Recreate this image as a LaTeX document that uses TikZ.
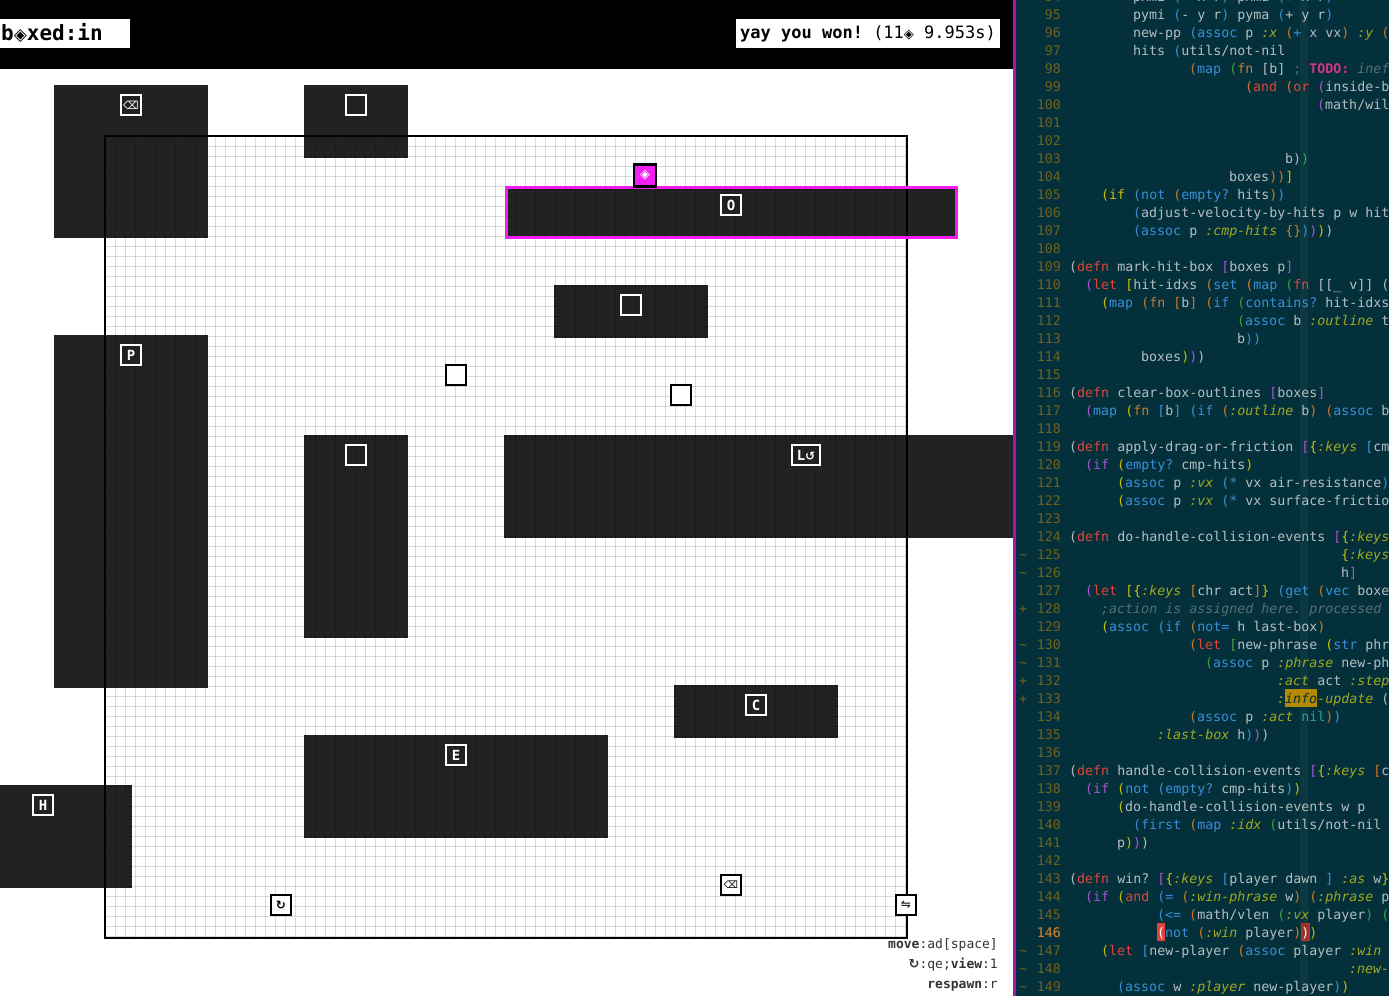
\documentclass[tikz,border=0pt]{standalone}
\usepackage{fontspec}
\setmainfont{DejaVu Sans}
\setmonofont{DejaVu Sans Mono}
\newfontfamily\symf{DejaVu Sans}
\definecolor{codebg}{HTML}{03303B}
\definecolor{ctext}{HTML}{B4BEC0}
\definecolor{cred}{HTML}{E0453A}
\definecolor{cblue}{HTML}{3A8FD8}
\definecolor{corange}{HTML}{CB7A2A}
\definecolor{cyellow}{HTML}{C8C000}
\definecolor{cviolet}{HTML}{A855D0}
\definecolor{cgreen}{HTML}{3CA33C}
\definecolor{ckey}{HTML}{A0A820}
\definecolor{cteal}{HTML}{2AA198}
\definecolor{cmt}{HTML}{586E75}
\definecolor{todo}{HTML}{D33682}
\definecolor{numc}{HTML}{6E6220}
\definecolor{boxc}{HTML}{222222}
\definecolor{mag}{HTML}{F01EF0}
\definecolor{hlgold}{HTML}{B58900}
\newcommand\kR[1]{\textcolor{cred}{#1}}
\newcommand\kB[1]{\textcolor{cblue}{#1}}
\newcommand\kO[1]{\textcolor{corange}{#1}}
\newcommand\kY[1]{\textcolor{cyellow}{#1}}
\newcommand\kV[1]{\textcolor{cviolet}{#1}}
\newcommand\kG[1]{\textcolor{cgreen}{#1}}
\newcommand\kK[1]{\textcolor{ckey}{\itshape #1}}
\newcommand\cl[3]{\node[codet] at ({1069+8*#2},{19+18*(#1-95)}) {#3};\node[numt] at (1061,{19+18*(#1-95)}) {#1};}
\newcommand\mk[2]{\node[markt] at (1023,{19+18*(#1-95)}) {#2};}
\tikzset{
 codet/.style={anchor=base west,inner sep=0,text=ctext,font=\ttfamily\fontsize{13.3}{16}\selectfont},
 numt/.style={anchor=base east,inner sep=0,text=numc,font=\ttfamily\fontsize{13.3}{16}\selectfont},
 markt/.style={anchor=base,inner sep=0,text=numc,font=\ttfamily\fontsize{13.3}{16}\selectfont},
 gbox/.style={fill=boxc,draw=none},
 lab/.style={draw=white,line width=1.2,minimum size=20,inner sep=0,text=white,font=\ttfamily\bfseries\fontsize{14}{16}\selectfont},
 wlab/.style={draw=black,fill=white,line width=1.2,minimum size=20,inner sep=0,text=black,font=\symf\fontsize{12}{14}\selectfont},
 help/.style={anchor=base east,inner sep=0,text=black!80,font=\ttfamily\fontsize{13}{15}\selectfont}
}
\begin{document}
\begin{tikzpicture}[x=1pt,y=-1pt]
\useasboundingbox (0,0) rectangle (1389,996);
% game area
\fill[white] (0,69) rectangle (1013,996);
\fill[black] (0,0) rectangle (1013,69);
\node[fill=white,anchor=west,minimum width=130,minimum height=29,inner sep=1,text width=128,font=\ttfamily\bfseries\fontsize{21}{24}\selectfont] (title) at (0,33.5) {b{\symf\fontsize{17}{20}\selectfont ◈}xed:in};
\node[fill=white,anchor=west,minimum height=29,inner xsep=4,inner ysep=1,font=\ttfamily\fontsize{17}{20}\selectfont] (status) at (736,33.5) {\textbf{yay you won!} (11{\symf\fontsize{13}{16}\selectfont ◈} 9.953s)};
% boxes
\fill[gbox] (54,85) rectangle (208,238);
\fill[gbox] (304,85) rectangle (408,158);
\fill[gbox] (554,285) rectangle (708,338);
\fill[gbox] (54,335) rectangle (208,688);
\fill[gbox] (304,435) rectangle (408,638);
\fill[gbox] (504,435) rectangle (1013,538);
\fill[gbox] (674,685) rectangle (838,738);
\fill[gbox] (304,735) rectangle (608,838);
\fill[gbox] (0,785) rectangle (132,888);
\fill[gbox] (506,187) rectangle (956,237);
% grid
\begin{scope}
\clip (105,136) rectangle (907,938);
\foreach \i in {0,...,80} {
 \draw[black,opacity=0.14,line width=0.7] ({105+10*\i},136) -- ({105+10*\i},938);
 \draw[black,opacity=0.14,line width=0.7] (105,{136+10*\i}) -- (907,{136+10*\i});
}
\end{scope}
\draw[black,line width=2] (105,136) rectangle (907,938);
\draw[mag,line width=3] (506,187) rectangle (956,237);
% player
\node[fill=mag,draw=black,line width=2.5,minimum size=22,inner sep=0,text=white,font=\symf\fontsize{13}{14}\selectfont] (player) at (645,175.5) {◈};
% labels
\node[lab,font=\symf\fontsize{11}{12}\selectfont] (l1) at (131,105) {⌫};
\node[lab] (l2) at (356,105) {};
\node[lab] (lO) at (731,205) {O};
\node[lab] (l4) at (631,305) {};
\node[wlab] (f1) at (456,375) {};
\node[wlab] (f2) at (681,395) {};
\node[lab] (lP) at (131,355) {P};
\node[lab] (l7) at (356,455) {};
\node[lab,minimum width=28] (lL) at (806,455) {L{\symf\fontsize{12}{14}\selectfont ↺}};
\node[lab] (lC) at (756,705) {C};
\node[lab] (lE) at (456,755) {E};
\node[lab] (lH) at (43,805) {H};
\node[wlab,font=\symf\bfseries\fontsize{12}{14}\selectfont] (i1) at (281,905) {↻};
\node[wlab,font=\symf\fontsize{10}{12}\selectfont] (i2) at (731,885) {⌫};
\node[wlab] (i3) at (906,905) {⇋};
% help
\node[help] (h1) at (998,948) {\textbf{move}:ad[space]};
\node[help] (h2) at (998,968) {{\symf\bfseries ↻}:qe;\textbf{view}:1};
\node[help] (h3) at (998,988) {\textbf{respawn}:r};
% code panel
\fill[codebg] (1013,0) rectangle (1389,996);
\fill[mag!70!black] (1013,0) rectangle (1016,996);
\fill[white,opacity=0.04] (1300,0) rectangle (1308,996);
\fill[hlgold] (1285,689) rectangle (1317,707);
\fill[cred] (1157,923) rectangle (1165,941);
\draw[cred!80!black,fill=cred!70!black,line width=1] (1301,923.5) rectangle (1309,940.5);
\begin{scope}
\clip (1016,0) rectangle (1389,996);
\cl{94}{8}{pxmi \kB{(}- x r\kB{)} pxma \kB{(}+ x r\kB{)}}
\cl{95}{8}{pymi \kB{(}- y r\kB{)} pyma \kB{(}+ y r\kB{)}}
\cl{96}{8}{new-pp \kB{(assoc} p \kK{:x} \kO{(}\kB{+} x vx\kO{)} \kK{:y} \kO{(}}
\cl{97}{8}{hits \kB{(}utils/not-nil}
\cl{98}{15}{\kO{(}\kB{map} \kG{(}\kO{fn} [b] \textcolor{cmt}{;} \textcolor{todo}{\bfseries TODO:} \textcolor{cmt}{\itshape inef}}
\cl{99}{22}{\kO{(}\kR{and} \kO{(}\kR{or} \kV{(}inside-b}
\cl{100}{31}{\kV{(}math/wil}
\cl{101}{0}{}
\cl{102}{0}{}
\cl{103}{27}{b)\kG{)}}
\cl{104}{20}{boxes\kO{))}\kY{]}}
\cl{105}{4}{\kY{(if} \kB{(not} \kO{(}\kB{empty?} hits\kO{)}\kB{)}}
\cl{106}{8}{\kB{(}adjust-velocity-by-hits p w hit}
\cl{107}{8}{\kB{(assoc} p \kK{:cmp-hits} \kO{\{\}}\kB{)}\kV{)}\kY{)})}
\cl{108}{0}{}
\cl{109}{0}{(\kR{defn} mark-hit-box \kV{[}boxes p\kV{]}}
\cl{110}{2}{\kV{(}\kR{let} \kY{[}hit-idxs \kO{(}\kB{set} \kO{(}\kB{map} \kG{(}\kR{fn} [[\_ v]] (}
\cl{111}{4}{\kY{(}\kB{map} \kO{(fn} \kO{[}b\kO{]} \kO{(}\kB{if} \kG{(}\kB{contains?} hit-idxs}
\cl{112}{21}{\kG{(}\kB{assoc} b \kK{:outline} t}
\cl{113}{21}{b\kB{))}}
\cl{114}{9}{boxes\kY{)}\kV{)})}
\cl{115}{0}{}
\cl{116}{0}{(\kR{defn} clear-box-outlines \kV{[}boxes\kV{]}}
\cl{117}{2}{\kV{(}\kB{map} \kY{(}\kO{fn} \kB{[}b\kB{]} \kB{(if} \kO{(}\kK{:outline} b\kO{)} \kO{(}\kB{assoc} b}
\cl{118}{0}{}
\cl{119}{0}{(\kR{defn} apply-drag-or-friction \kV{[}\kY{\{}\kK{:keys} \kB{[}cm}
\cl{120}{2}{\kV{(if} \kY{(}\kB{empty?} cmp-hits\kY{)}}
\cl{121}{6}{\kY{(}\kB{assoc} p \kK{:vx} \kB{(*} vx air-resistance\kB{)}}
\cl{122}{6}{\kY{(}\kB{assoc} p \kK{:vx} \kB{(*} vx surface-frictio}
\cl{123}{0}{}
\cl{124}{0}{(\kR{defn} do-handle-collision-events \kV{[}\kY{\{}\kK{:keys}}
\cl{125}{34}{\kY{\{}\kK{:keys}}
\cl{126}{34}{h\kV{]}}
\cl{127}{2}{\kV{(}\kR{let} \kY{[}\kY{\{}\kK{:keys} \kO{[}chr act\kO{]}\kY{\}} \kB{(get} \kO{(}\kB{vec} boxe}
\cl{128}{4}{\textcolor{cmt}{\itshape ;action is assigned here. processed}}
\cl{129}{4}{\kY{(}\kB{assoc} \kB{(if} \kO{(}\kB{not=} h last-box\kO{)}}
\cl{130}{15}{\kO{(}\kR{let} \kG{[}new-phrase \kY{(}\kB{str} phr}
\cl{131}{17}{\kG{(}\kB{assoc} p \kK{:phrase} new-ph}
\cl{132}{26}{\kK{:act} act \kK{:step}}
\cl{133}{26}{\kK{:}\textcolor{codebg}{\itshape info}\kK{-update} (}
\cl{134}{15}{\kO{(}\kB{assoc} p \kK{:act} \textcolor{cteal}{nil}\kO{)}\kB{)}}
\cl{135}{11}{\kK{:last-box} h\kB{)}\kV{)})}
\cl{136}{0}{}
\cl{137}{0}{(\kR{defn} handle-collision-events \kV{[}\kY{\{}\kK{:keys} \kO{[}cm}
\cl{138}{2}{\kV{(if} \kY{(}\kB{not} \kB{(}\kB{empty?} cmp-hits\kB{)}\kY{)}}
\cl{139}{6}{\kY{(}do-handle-collision-events w p}
\cl{140}{8}{\kB{(first} \kO{(}\kB{map} \kK{:idx} \kG{(}utils/not-nil}
\cl{141}{6}{p\kY{)}\kV{)})}
\cl{142}{0}{}
\cl{143}{0}{(\kR{defn} win? \kV{[}\kY{\{}\kK{:keys} \kB{[}player dawn \kB{]} \kK{:as} w\kY{\}}}
\cl{144}{2}{\kV{(if} \kY{(}\kR{and} \kB{(=} \kO{(}\kK{:win-phrase} w\kO{)} \kO{(}\kK{:phrase} p}
\cl{145}{11}{\kB{(<=} \kO{(}math/vlen \kG{(}\kK{:vx} player\kG{)} \kG{(}}
\cl{146}{11}{\textcolor{white}{(}\kB{not} \kO{(}\kK{:win} player\kO{)}\textcolor{white}{)}\kY{)}}
\cl{147}{4}{\kY{(}\kR{let} \kB{[}new-player \kO{(}\kB{assoc} player \kK{:win}}
\cl{148}{35}{\kK{:new-}}
\cl{149}{6}{\kB{(}\kB{assoc} w \kK{:player} new-player\kB{)}\kY{)}}
\node[numt,text=corange] at (1061,{19+18*51}) {146};
\mk{125}{\textasciitilde}\mk{126}{\textasciitilde}\mk{128}{+}\mk{130}{\textasciitilde}\mk{131}{\textasciitilde}
\mk{132}{+}\mk{133}{+}\mk{147}{\textasciitilde}\mk{148}{\textasciitilde}\mk{149}{\textasciitilde}
\end{scope}
\end{tikzpicture}
\end{document}
